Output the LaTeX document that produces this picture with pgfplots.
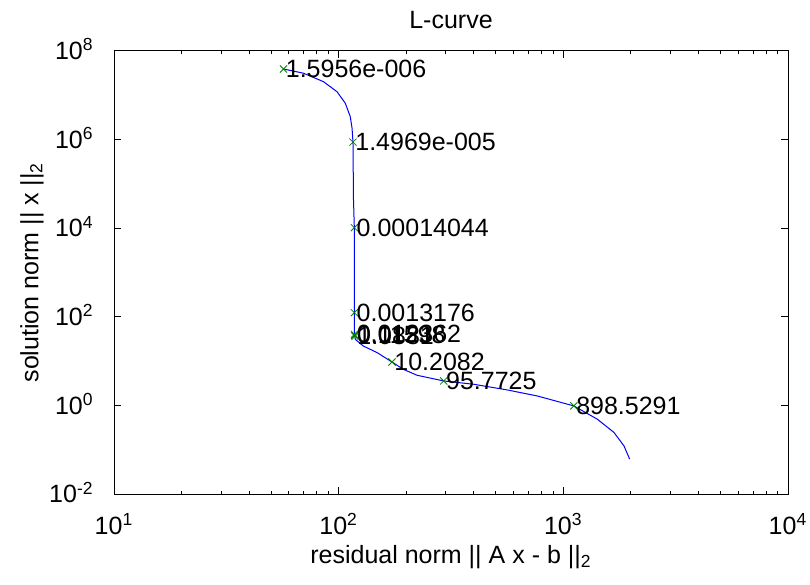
\documentclass[border=0pt]{standalone}
\usepackage{fontspec}
\setmainfont{Liberation Sans}
\usepackage{pgfplots}
\pgfplotsset{compat=1.18}

\definecolor{curveblue}{RGB}{0,0,255}
\definecolor{markgreen}{RGB}{0,128,0}

\begin{document}
\fontsize{12.5}{15}\selectfont
\begin{tikzpicture}
\begin{axis}[
    scale only axis,
    width=337pt, height=221.65pt,
    xmode=log, ymode=log,
    xmin=10, xmax=1e4, ymin=1e-2, ymax=1e8,
    xtick={10,100,1000,10000},
    xticklabels={10\textsuperscript{1},10\textsuperscript{2},10\textsuperscript{3},10\textsuperscript{4}},
    ytick={1e-2,1,1e2,1e4,1e6,1e8},
    yticklabels={10\textsuperscript{-2},10\textsuperscript{0},10\textsuperscript{2},10\textsuperscript{4},10\textsuperscript{6},10\textsuperscript{8}},
    yminorticks=false,
    major tick length=3.5pt, minor tick length=1.75pt,
    tick align=inside,
    axis line style={line width=0.5pt},
    every tick/.style={black, line width=0.5pt},
    xticklabel style={anchor=base, inner sep=0pt, yshift=-20pt},
    yticklabel style={anchor=base east, inner sep=0pt, xshift=-10pt, yshift=-4.4pt},
    title={L-curve},
    title style={at={(rel axis cs:0.5,1)}, anchor=base, inner sep=0pt, yshift=5.3pt},
    xlabel={residual norm || A x - b ||\textsubscript{2}},
    xlabel style={at={(rel axis cs:0.5,0)}, anchor=north, inner sep=0pt, yshift=-25.5pt},
    ylabel={solution norm || x ||\textsubscript{2}},
    ylabel style={at={(rel axis cs:0,0.5)}, anchor=center, inner sep=0pt, yshift=41pt},
    clip=false,
]
\coordinate (bl) at (rel axis cs:0,0);
\coordinate (tr) at (rel axis cs:1,1);

% L-curve
\addplot[curveblue, line width=0.5pt, mark=none] table {
x y
56.8 3.87e7
69.8 3.1e7
85.6 2.0e7
98.3 1.19e7
107 6.55e6
112.6 3.27e6
114.7 1.79e6
115.8 8.68e5
116.4 4.37e4
117.4 1.02e4
117.4 690
117.4 123
117.6 40
118.6 30.8
128.7 21.8
148.2 15.5
172.8 9.5
194 6.5
223.3 4.77
293.5 3.55
399 2.99
562 2.23
765 1.63
1114 0.97
1416 0.488
1680 0.245
1861 0.122
1959 0.067
1972 0.0614
};

% regularization parameters
\addplot[markgreen, only marks, mark=x, mark size=2.5pt, line width=0.4pt,
    point meta=explicit symbolic, nodes near coords,
    every node near coord/.append style={anchor=west, inner sep=1pt, text=black,
        font=\fontsize{12.5}{15}\selectfont}]
    table[meta=lab] {
x y lab
56.8 3.87e7 1.5956e-006
115.8 8.68e5 1.4969e-005
117.4 1.02e4 0.00014044
117.4 123 0.0013176
117.5 40 0.012362
117.8 38 0.11598
118.2 36 1.0881
172.8 9.5 10.2082
293.5 3.55 95.7725
1114 0.97 898.5291
};
\end{axis}
\pgfresetboundingbox
\path[use as bounding box] ([xshift=-57pt,yshift=-45pt]bl) rectangle ([xshift=11pt,yshift=25.35pt]tr);
\end{tikzpicture}
\end{document}
